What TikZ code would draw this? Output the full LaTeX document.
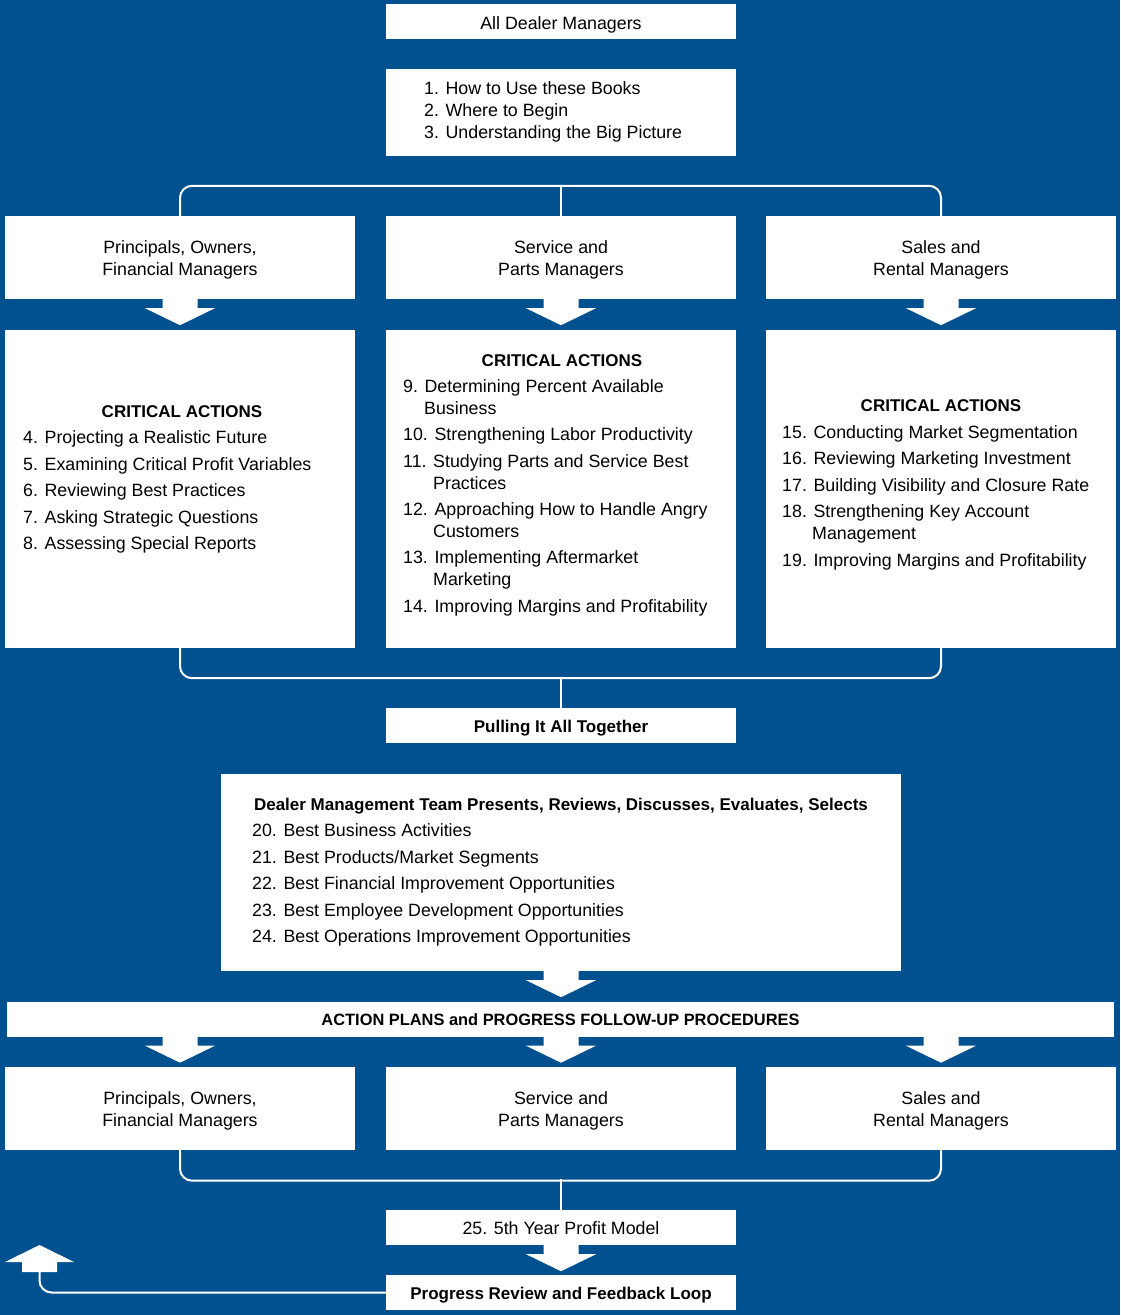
\documentclass[tikz,border=0pt]{standalone}
\usepackage{fontspec}
\setmainfont{Liberation Sans}
\usetikzlibrary{calc}
\definecolor{bg}{RGB}{1,80,143}
\newcommand\blockarrowat[1]{%
  \path #1 coordinate (ba);
  \fill[white] (ba) ++(-17.5,-1) -- ++(0,10) -- ++(-17.5,0) -- ++(35,17) -- ++(35,-17) -- ++(-17.5,0) -- ++(0,-10) -- cycle;}
\newcommand\regfont{\fontsize{17.8}{22}\selectfont}
\newcommand\boldfont{\fontsize{17}{22}\selectfont\bfseries}
\begin{document}
\begin{tikzpicture}[x=1pt,y=-1pt,
 box/.style={fill=white, draw=none, inner sep=0pt},
 lbl/.style={inner sep=0pt, align=center, text=black, font=\regfont, yshift=-2.5pt},
 blbl/.style={lbl, font=\boldfont},
 conn/.style={draw=white, line width=2pt, rounded corners=12pt},
 txt/.style={anchor=base west, inner sep=0pt, text=black, font=\regfont},
 ttl/.style={anchor=base, inner sep=0pt, text=black, font=\boldfont}]
\fill[bg] (0,0) rectangle (1120,1315);
\useasboundingbox (0,0) rectangle (1120,1315);

% top boxes
\node[box, minimum width=350, minimum height=35] (all) at (561,21.5) {};
\node[lbl, yshift=-1pt] (allt) at (all.center) {All Dealer Managers};
\node[box, minimum width=350, minimum height=87] (books) at (561,112.5) {};
\node[txt] (b1) at (424,94) {1. How to Use these Books};
\node[txt] (b2) at (424,116) {2. Where to Begin};
\node[txt] (b3) at (424,138) {3. Understanding the Big Picture};

% manager row 1
\node[box, minimum width=350, minimum height=83] (p1) at (180,257.5) {};
\node[lbl] (p1t) at (p1.center) {Principals, Owners,\\Financial Managers};
\node[box, minimum width=350, minimum height=83] (s1) at (561,257.5) {};
\node[lbl] (s1t) at (s1.center) {Service and\\Parts Managers};
\node[box, minimum width=350, minimum height=83] (r1) at (941,257.5) {};
\node[lbl] (r1t) at (r1.center) {Sales and\\Rental Managers};

\draw[conn] (p1.north) -- ++(0,-30) -| (r1.north);
\draw[conn] (s1.north) -- ++(0,-30);

% critical action boxes
\node[box, minimum width=350, minimum height=318] (p2) at (180,489) {};
\node[box, minimum width=350, minimum height=318] (s2) at (561,489) {};
\node[box, minimum width=350, minimum height=318] (r2) at (941,489) {};

\blockarrowat{(p1.south)}
\blockarrowat{(s1.south)}
\blockarrowat{(r1.south)}

\node[ttl] (pt) at (182,417) {CRITICAL ACTIONS};
\node[txt] (p4) at (23,443) {4. Projecting a Realistic Future};
\node[txt] (p5) at (23,470) {5. Examining Critical Profit Variables};
\node[txt] (p6) at (23,496) {6. Reviewing Best Practices};
\node[txt] (p7) at (23,523) {7. Asking Strategic Questions};
\node[txt] (p8) at (23,549) {8. Assessing Special Reports};

\node[ttl] (st) at (562,366) {CRITICAL ACTIONS};
\node[txt] (s9) at (403,392) {9. Determining Percent Available};
\node[txt] (s9b) at (424,414) {Business};
\node[txt] (s10) at (403,440) {10. Strengthening Labor Productivity};
\node[txt] (s11) at (403,467) {11. Studying Parts and Service Best};
\node[txt] (s11b) at (433,489) {Practices};
\node[txt] (s12) at (403,515) {12. Approaching How to Handle Angry};
\node[txt] (s12b) at (433,537) {Customers};
\node[txt] (s13) at (403,563) {13. Implementing Aftermarket};
\node[txt] (s13b) at (433,585) {Marketing};
\node[txt] (s14) at (403,612) {14. Improving Margins and Profitability};

\node[ttl] (rt) at (941,411) {CRITICAL ACTIONS};
\node[txt] (r15) at (782,438) {15. Conducting Market Segmentation};
\node[txt] (r16) at (782,464) {16. Reviewing Marketing Investment};
\node[txt] (r17) at (782,491) {17. Building Visibility and Closure Rate};
\node[txt] (r18) at (782,517) {18. Strengthening Key Account};
\node[txt] (r18b) at (812,539) {Management};
\node[txt] (r19) at (782,566) {19. Improving Margins and Profitability};

% pulling together
\node[box, minimum width=350, minimum height=35] (pull) at (561,725.5) {};
\node[blbl] (pullt) at (pull.center) {Pulling It All Together};
\draw[conn] (p2.south) -- ++(0,30) -| (r2.south);
\draw[conn] (pull.north) -- ++(0,-30);

% dealer management team
\node[box, minimum width=680, minimum height=197] (team) at (561,872.5) {};
\node[ttl] (tt) at (561,810) {Dealer Management Team Presents, Reviews, Discusses, Evaluates, Selects};
\node[txt] (t20) at (252,836) {20. Best Business Activities};
\node[txt] (t21) at (252,863) {21. Best Products/Market Segments};
\node[txt] (t22) at (252,889) {22. Best Financial Improvement Opportunities};
\node[txt] (t23) at (252,916) {23. Best Employee Development Opportunities};
\node[txt] (t24) at (252,942) {24. Best Operations Improvement Opportunities};

% action plans
\node[box, minimum width=1107, minimum height=35] (act) at (560.5,1019) {};
\node[blbl, yshift=2pt, font=\fontsize{16.4}{22}\selectfont\bfseries] (actt) at (act.center) {ACTION PLANS and PROGRESS FOLLOW-UP PROCEDURES};
\blockarrowat{(team.south)}

% manager row 3
\node[box, minimum width=350, minimum height=83] (p3) at (180,1108) {};
\node[lbl] (p3t) at (p3.center) {Principals, Owners,\\Financial Managers};
\node[box, minimum width=350, minimum height=83] (s3) at (561,1108) {};
\node[lbl] (s3t) at (s3.center) {Service and\\Parts Managers};
\node[box, minimum width=350, minimum height=83] (r3) at (941,1108) {};
\node[lbl] (r3t) at (r3.center) {Sales and\\Rental Managers};
\blockarrowat{(act.south -| p3.north)}
\blockarrowat{(act.south -| s3.north)}
\blockarrowat{(act.south -| r3.north)}

% profit model and feedback
\node[box, minimum width=350, minimum height=35] (model) at (561,1227.5) {};
\node[lbl, yshift=1.5pt] (modelt) at (model.center) {25. 5th Year Profit Model};
\draw[conn] (p3.south) -- ++(0,31) -| (r3.south);
\draw[conn] (model.north) -- ++(0,-31);
\node[box, minimum width=350, minimum height=35] (fb) at (561,1292.5) {};
\node[blbl] (fbt) at (fb.center) {Progress Review and Feedback Loop};
\blockarrowat{(model.south)}

\coordinate (up) at (39.5,1271);
\fill[white] (up) ++(-17.5,1) -- ++(0,-10) -- ++(-17,0) -- ++(34.5,-17) -- ++(34.5,17) -- ++(-17,0) -- ++(0,10) -- cycle;
\draw[conn] (fb.west) -| (up);
\end{tikzpicture}
\end{document}
